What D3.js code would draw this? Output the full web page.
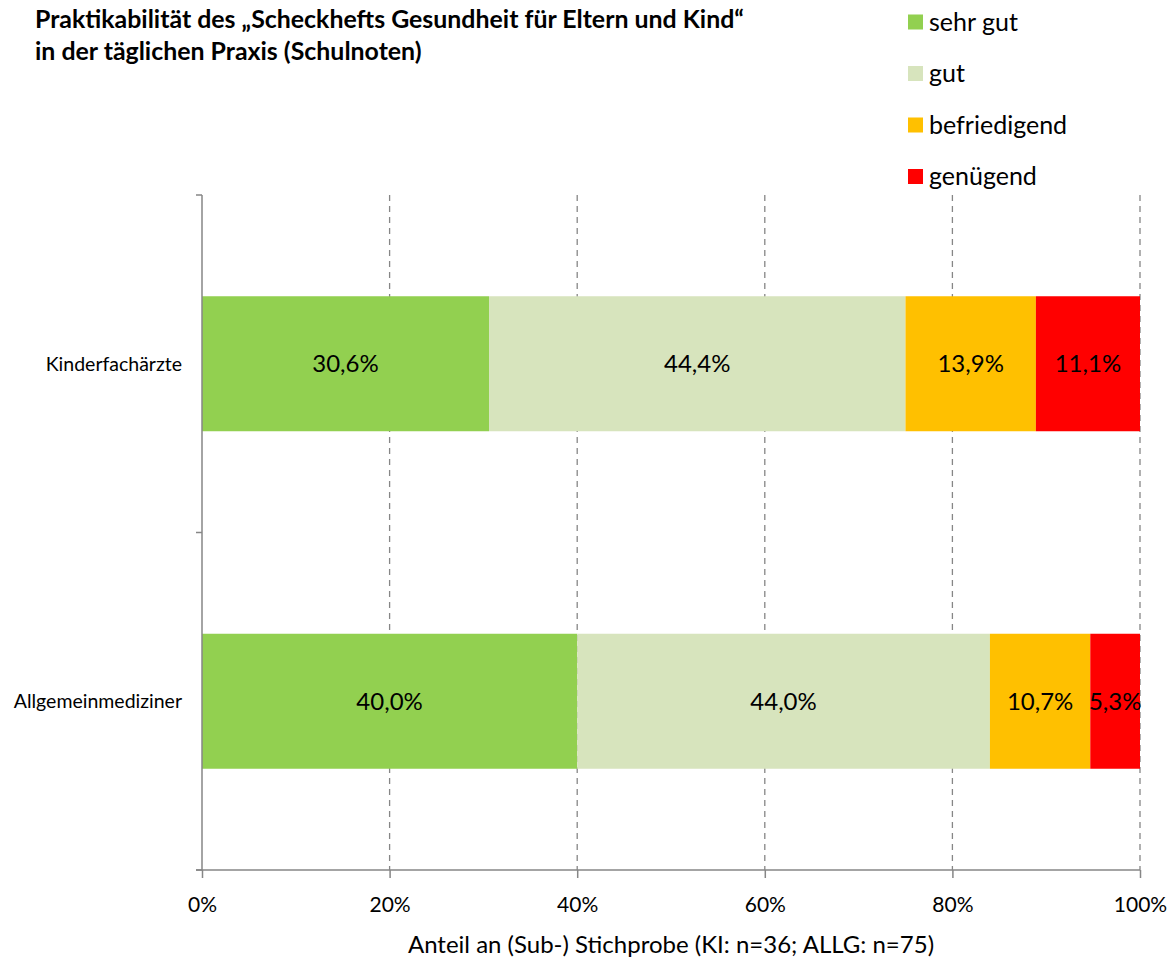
<!DOCTYPE html>
<html>
<head>
<meta charset="utf-8">
<script src="https://cdn.jsdelivr.net/npm/d3@7"></script>
<style>
  html, body { margin: 0; padding: 0; background: #fff; }
  svg { display: block; font-family: Lato, "Open Sans", sans-serif; }
</style>
</head>
<body>
<svg id="chart" width="1176" height="960"></svg>
<script>
// Survey groups (top to bottom) and grade categories
const groups = ["Kinderfachärzte", "Allgemeinmediziner"];
const grades = ["sehr gut", "gut", "befriedigend", "genügend"];
const gradeColors = ["#92D050", "#D7E4BD", "#FFC000", "#FF0000"];

// Share per grade, in percent
const sehrGut = [30.6, 40.0];
const gut = [44.4, 44.0];
const befriedigend = [13.9, 10.7];
const genuegend = [11.1, 5.3];

const xTicks = [0, 20, 40, 60, 80, 100];
const titleLines = [
  "Praktikabilität des „Scheckhefts Gesundheit für Eltern und Kind“",
  "in der täglichen Praxis (Schulnoten)"
];
const xAxisTitle = "Anteil an (Sub-) Stichprobe (KI: n=36; ALLG: n=75)";

const seriesValues = [sehrGut, gut, befriedigend, genuegend];
const rows = groups.map((g, i) => {
  const r = { group: g };
  grades.forEach((k, j) => { r[k] = seriesValues[j][i]; });
  return r;
});
const stacked = d3.stack().keys(grades)(rows);

const svg = d3.select("#chart");
const margin = { left: 202, right: 36, top: 195, bottom: 90 };
const W = 1176, H = 960;

const x = d3.scaleLinear().domain([0, 100]).range([margin.left, W - margin.right]);
const y = d3.scaleBand().domain(groups).range([margin.top, H - margin.bottom]).paddingInner(0.6).paddingOuter(0.3);

const axisColor = "#868686";

// Dashed vertical gridlines
svg.append("g")
  .selectAll("line")
  .data(xTicks.filter(t => t > 0))
  .join("line")
  .attr("x1", d => x(d)).attr("x2", d => x(d))
  .attr("y1", margin.top).attr("y2", H - margin.bottom)
  .attr("stroke", axisColor)
  .attr("stroke-width", 1.3)
  .attr("stroke-dasharray", "6,5");

// Stacked bars
const layer = svg.append("g")
  .selectAll("g")
  .data(stacked)
  .join("g")
  .attr("fill", (d, i) => gradeColors[i]);

layer.selectAll("rect")
  .data(d => d)
  .join("rect")
  .attr("x", d => x(d[0]))
  .attr("width", d => x(d[1]) - x(d[0]))
  .attr("y", d => y(d.data.group))
  .attr("height", y.bandwidth());

// Value labels centered in each segment
layer.selectAll("text")
  .data(d => d)
  .join("text")
  .attr("x", d => (x(d[0]) + x(d[1])) / 2)
  .attr("y", d => y(d.data.group) + y.bandwidth() / 2)
  .attr("dy", "0.35em")
  .attr("text-anchor", "middle")
  .attr("fill", "#000")
  .attr("font-size", 24)
  .text(d => d3.format(".1f")(d[1] - d[0]).replace(".", ",") + "%");

// Category axis (vertical) with tick marks at band boundaries
const yAxisG = svg.append("g");
yAxisG.append("line")
  .attr("x1", margin.left).attr("x2", margin.left)
  .attr("y1", margin.top).attr("y2", H - margin.bottom)
  .attr("stroke", axisColor).attr("stroke-width", 1.5);
const step = (H - margin.bottom - margin.top) / groups.length;
yAxisG.selectAll("line.tick")
  .data(d3.range(groups.length + 1))
  .join("line")
  .attr("class", "tick")
  .attr("x1", margin.left - 6).attr("x2", margin.left)
  .attr("y1", i => margin.top + i * step).attr("y2", i => margin.top + i * step)
  .attr("stroke", axisColor).attr("stroke-width", 1.5);
yAxisG.selectAll("text")
  .data(groups)
  .join("text")
  .attr("x", margin.left - 20)
  .attr("y", d => y(d) + y.bandwidth() / 2)
  .attr("dy", "0.35em")
  .attr("text-anchor", "end")
  .attr("font-size", 19.5)
  .attr("fill", "#000")
  .text(d => d);

// Percentage axis (horizontal)
const xAxis = d3.axisBottom(x)
  .tickValues(xTicks)
  .tickFormat(d => d + "%")
  .tickSize(8)
  .tickSizeOuter(0)
  .tickPadding(19);
const xAxisG = svg.append("g")
  .attr("transform", `translate(0,${H - margin.bottom})`)
  .call(xAxis);
xAxisG.select(".domain").attr("stroke", axisColor).attr("stroke-width", 1.5)
  .attr("d", `M${margin.left - 6},0H${W - margin.right}`);
xAxisG.selectAll(".tick line").attr("stroke", axisColor).attr("stroke-width", 1.5);
xAxisG.selectAll(".tick text")
  .attr("font-size", 21)
  .attr("font-family", "Lato, 'Open Sans', sans-serif")
  .attr("fill", "#000");

svg.append("text")
  .attr("x", (x(0) + x(100)) / 2)
  .attr("y", 953)
  .attr("text-anchor", "middle")
  .attr("font-size", 24)
  .attr("fill", "#000")
  .text(xAxisTitle);

// Title
svg.append("g")
  .selectAll("text")
  .data(titleLines)
  .join("text")
  .attr("x", 35)
  .attr("y", (d, i) => 28 + i * 32)
  .attr("font-size", 24.9)
  .attr("font-weight", "bold")
  .attr("fill", "#000")
  .text(d => d);

// Legend
const legend = svg.append("g")
  .selectAll("g")
  .data(grades)
  .join("g")
  .attr("transform", (d, i) => `translate(908,${22 + i * 51.5})`);
legend.append("rect")
  .attr("x", 0).attr("y", -7.5)
  .attr("width", 15).attr("height", 15)
  .attr("fill", (d, i) => gradeColors[i]);
legend.append("text")
  .attr("x", 21)
  .attr("y", 0)
  .attr("dy", "0.35em")
  .attr("font-size", 25)
  .attr("fill", "#000")
  .text(d => d);
</script>
</body>
</html>
